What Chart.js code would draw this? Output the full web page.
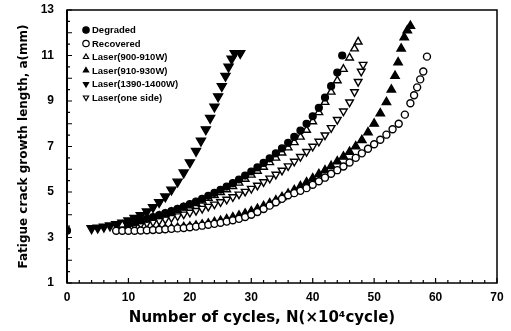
<!DOCTYPE html>
<html>
<head>
<meta charset="utf-8">
<script src="https://cdn.jsdelivr.net/npm/chart.js@4.4.0/dist/chart.umd.min.js"></script>
<style>
  html, body { margin: 0; padding: 0; background: #fff; }
  #wrap { width: 511px; height: 331px; }
</style>
</head>
<body>
<div id="wrap"><canvas id="crackChart" width="511" height="331"></canvas></div>
<script>
// Series names (legend order)
var seriesNames = ["Degraded", "Recovered", "Laser(900-910W)", "Laser(910-930W)", "Laser(1390-1400W)", "Laser(one side)"];

// N (x10^4 cycle) / a (mm)
var degradedN = [0, 10, 11, 12, 13, 14, 15, 16, 17, 18, 19, 20, 21, 22, 23, 24, 25, 26, 27, 28, 29, 30, 31, 32, 33, 34, 35, 36, 37, 38, 39, 40, 41, 42, 43, 44, 44.8];
var degradedA = [3.3, 3.62, 3.68, 3.75, 3.82, 3.9, 3.98, 4.07, 4.16, 4.26, 4.36, 4.47, 4.58, 4.7, 4.83, 4.96, 5.1, 5.24, 5.39, 5.55, 5.72, 5.9, 6.08, 6.28, 6.48, 6.7, 6.92, 7.16, 7.42, 7.7, 8.0, 8.33, 8.7, 9.15, 9.65, 10.25, 11.0];

var recoveredN = [8, 9, 10, 11, 12, 13, 14, 15, 16, 17, 18, 19, 20, 21, 22, 23, 24, 25, 26, 27, 28, 29, 30, 31, 32, 33, 34, 35, 36, 37, 38, 39, 40, 41, 42, 43, 44, 45, 46, 47, 48, 49, 50, 51, 52, 53, 54, 55, 55.9, 56.5, 57, 57.5, 58, 58.6];
var recoveredA = [3.3, 3.3, 3.3, 3.3, 3.31, 3.32, 3.33, 3.34, 3.36, 3.38, 3.4, 3.42, 3.45, 3.48, 3.52, 3.56, 3.6, 3.65, 3.7, 3.76, 3.82, 3.9, 4.0, 4.12, 4.25, 4.4, 4.55, 4.7, 4.86, 4.95, 5.05, 5.17, 5.32, 5.47, 5.63, 5.8, 5.96, 6.12, 6.3, 6.5, 6.7, 6.9, 7.1, 7.3, 7.52, 7.76, 8.0, 8.4, 8.9, 9.25, 9.6, 9.95, 10.3, 10.95];

var laser900N = [9, 10, 11, 12, 13, 14, 15, 16, 17, 18, 19, 20, 21, 22, 23, 24, 25, 26, 27, 28, 29, 30, 31, 32, 33, 34, 35, 36, 37, 38, 39, 40, 41, 42, 43, 44, 45, 46, 46.8, 47.4];
var laser900A = [3.55, 3.6, 3.66, 3.72, 3.79, 3.86, 3.94, 4.02, 4.11, 4.2, 4.3, 4.4, 4.5, 4.61, 4.73, 4.85, 4.98, 5.11, 5.25, 5.4, 5.57, 5.75, 5.92, 6.1, 6.3, 6.5, 6.72, 6.95, 7.18, 7.42, 7.72, 8.1, 8.5, 8.95, 9.4, 9.9, 10.4, 10.9, 11.3, 11.6];

var laser910N = [15, 16, 17, 18, 19, 20, 21, 22, 23, 24, 25, 26, 27, 28, 29, 30, 31, 32, 33, 34, 35, 36, 37, 38, 39, 40, 41, 42, 43, 44, 45, 46, 47, 48, 49, 50, 51, 52, 52.8, 53.4, 53.9, 54.4, 54.9, 55.4, 55.9];
var laser910A = [3.36, 3.38, 3.4, 3.42, 3.45, 3.48, 3.52, 3.56, 3.61, 3.67, 3.73, 3.8, 3.88, 3.96, 4.05, 4.15, 4.26, 4.38, 4.5, 4.63, 4.77, 4.92, 5.08, 5.25, 5.42, 5.6, 5.78, 5.95, 6.14, 6.34, 6.55, 6.76, 7.0, 7.28, 7.62, 8.0, 8.45, 8.95, 9.5, 10.1, 10.7, 11.3, 11.8, 12.1, 12.3];

var laser1390N = [4, 5, 6, 7, 8, 9, 10, 11, 12, 13, 14, 15, 16, 17, 18, 19, 20, 21, 21.8, 22.6, 23.3, 24, 24.6, 25.2, 25.8, 26.3, 26.8, 27.3, 28.2];
var laser1390A = [3.4, 3.43, 3.47, 3.52, 3.58, 3.65, 3.74, 3.85, 3.98, 4.14, 4.33, 4.55, 4.8, 5.1, 5.45, 5.85, 6.3, 6.8, 7.25, 7.75, 8.25, 8.75, 9.2, 9.65, 10.1, 10.5, 10.85, 11.1, 11.1];

var oneSideN = [10, 11, 12, 13, 14, 15, 16, 17, 18, 19, 20, 21, 22, 23, 24, 25, 26, 27, 28, 29, 30, 31, 32, 33, 34, 35, 36, 37, 38, 39, 40, 41, 42, 43, 44, 45, 46, 46.8, 47.4, 47.9, 48.2];
var oneSideA = [3.5, 3.54, 3.58, 3.63, 3.68, 3.74, 3.8, 3.87, 3.94, 4.02, 4.1, 4.18, 4.27, 4.36, 4.46, 4.56, 4.67, 4.78, 4.9, 5.02, 5.15, 5.29, 5.44, 5.6, 5.77, 5.95, 6.14, 6.34, 6.55, 6.77, 7.0, 7.22, 7.5, 7.82, 8.18, 8.55, 8.95, 9.4, 9.85, 10.3, 10.6];

// Tick labels
var xTickLabels = [0, 10, 20, 30, 40, 50, 60, 70];
var yTickLabels = [1, 3, 5, 7, 9, 11, 13];
var xTitle = "Number of cycles, N(\u00d710\u2074cycle)";
var yTitle = "Fatigue crack growth length, a(mm)";

var FONT = "'Liberation Sans', Arial, Helvetica, sans-serif";
var TITLE_FONT = "'DejaVu Sans', Verdana, sans-serif";

function toPoints(xs, ys) {
  var pts = [];
  for (var i = 0; i < xs.length; i++) pts.push({ x: xs[i], y: ys[i] });
  return pts;
}

// marker styles per series
function markerSet(label, xs, ys, style, filled, rot, r) {
  return {
    label: label,
    data: toPoints(xs, ys),
    showLine: false,
    pointStyle: style,
    pointRotation: rot,
    pointRadius: r,
    pointBackgroundColor: filled ? "#000" : "#fff",
    pointBorderColor: "#000",
    pointBorderWidth: 1.4
  };
}

var datasets = [
  markerSet(seriesNames[0], degradedN, degradedA, "circle", true, 0, 3.4),
  markerSet(seriesNames[1], recoveredN, recoveredA, "circle", false, 0, 3.5),
  markerSet(seriesNames[2], laser900N, laser900A, "triangle", false, 0, 4.4),
  markerSet(seriesNames[3], laser910N, laser910A, "triangle", true, 0, 4.8),
  markerSet(seriesNames[4], laser1390N, laser1390A, "triangle", true, 180, 5.2),
  markerSet(seriesNames[5], oneSideN, oneSideA, "triangle", false, 180, 4.4)
];

// Frame, inward ticks, x title and legend drawn on top
var framePlugin = {
  id: "frame",
  afterDatasetsDraw: function(chart) {
    var ctx = chart.ctx, a = chart.chartArea;
    var xs = chart.scales.x, ys = chart.scales.y;
    ctx.save();
    ctx.strokeStyle = "#000";
    ctx.lineWidth = 1.5;
    ctx.strokeRect(a.left, a.top, a.right - a.left, a.bottom - a.top);
    ctx.lineWidth = 2;
    ctx.beginPath();
    ctx.moveTo(a.left, a.top); ctx.lineTo(a.left, a.bottom);
    ctx.stroke();
    ctx.lineWidth = 1.2;
    ctx.beginPath();
    for (var v = 1; v <= 13; v += 0.5) {
      var py = ys.getPixelForValue(v);
      var len = (v % 1 === 0) ? 5 : 3;
      ctx.moveTo(a.left, py); ctx.lineTo(a.left + len, py);
    }
    for (var n = 0; n <= 70; n += 2) {
      var px = xs.getPixelForValue(n);
      var l2 = (n % 10 === 0) ? 5 : 3;
      ctx.moveTo(px, a.bottom); ctx.lineTo(px, a.bottom - l2);
    }
    ctx.stroke();
    ctx.restore();
  },
  afterDraw: function(chart) {
    var ctx = chart.ctx;
    ctx.save();
    // x axis title, sits a bit left of the plot centre in the original
    ctx.font = "bold 15px " + TITLE_FONT;
    ctx.fillStyle = "#000";
    ctx.textAlign = "center";
    ctx.textBaseline = "middle";
    ctx.fillText(xTitle, 262, 318);

    // legend
    ctx.textAlign = "left";
    ctx.font = "bold 9.5px " + FONT;
    chart.data.datasets.forEach(function(ds, i) {
      var y = 30 + i * 13.5;
      ctx.fillStyle = ds.pointBackgroundColor;
      ctx.strokeStyle = "#000";
      ctx.lineWidth = 1.2;
      Chart.helpers.drawPoint(ctx, {
        pointStyle: ds.pointStyle,
        rotation: ds.pointRotation,
        radius: ds.pointStyle === "circle" ? 3.2 : 3,
        borderWidth: 1.2
      }, 86, y);
      ctx.fillStyle = "#000";
      ctx.fillText(ds.label, 92, y + 0.5);
    });
    ctx.restore();
  }
};

var chart = new Chart(document.getElementById("crackChart"), {
  type: "scatter",
  data: { datasets: datasets },
  options: {
    responsive: false,
    animation: false,
    layout: { padding: { left: 0, right: 14, top: 10, bottom: 0 } },
    plugins: { legend: { display: false }, tooltip: { enabled: false } },
    scales: {
      x: {
        type: "linear", min: 0, max: 70,
        grid: { display: false, drawTicks: false },
        border: { display: false },
        ticks: {
          stepSize: 2, autoSkip: false, maxRotation: 0, padding: 7, color: "#000",
          font: { family: FONT, size: 12, weight: "bold" },
          callback: function(v) { return xTickLabels.indexOf(v) >= 0 ? String(v) : ""; }
        },
        title: { display: false },
        afterFit: function(s) {
          s.height = 48;
          s.paddingLeft = 0; s.paddingRight = 0;
        }
      },
      y: {
        type: "linear", min: 1, max: 13,
        grid: { display: false, drawTicks: false },
        border: { display: false },
        ticks: {
          stepSize: 0.5, autoSkip: false, padding: 13, color: "#000",
          font: { family: FONT, size: 12, weight: "bold" },
          callback: function(v) { return yTickLabels.indexOf(v) >= 0 ? String(v) : ""; }
        },
        title: {
          display: true, text: yTitle, color: "#000",
          font: { family: TITLE_FONT, size: 12, weight: "bold" },
          padding: { top: 17, bottom: 0 }
        },
        afterFit: function(s) {
          s.width = 67;
          s.paddingTop = 0; s.paddingBottom = 0;
        }
      }
    }
  },
  plugins: [framePlugin]
});
</script>
</body>
</html>
